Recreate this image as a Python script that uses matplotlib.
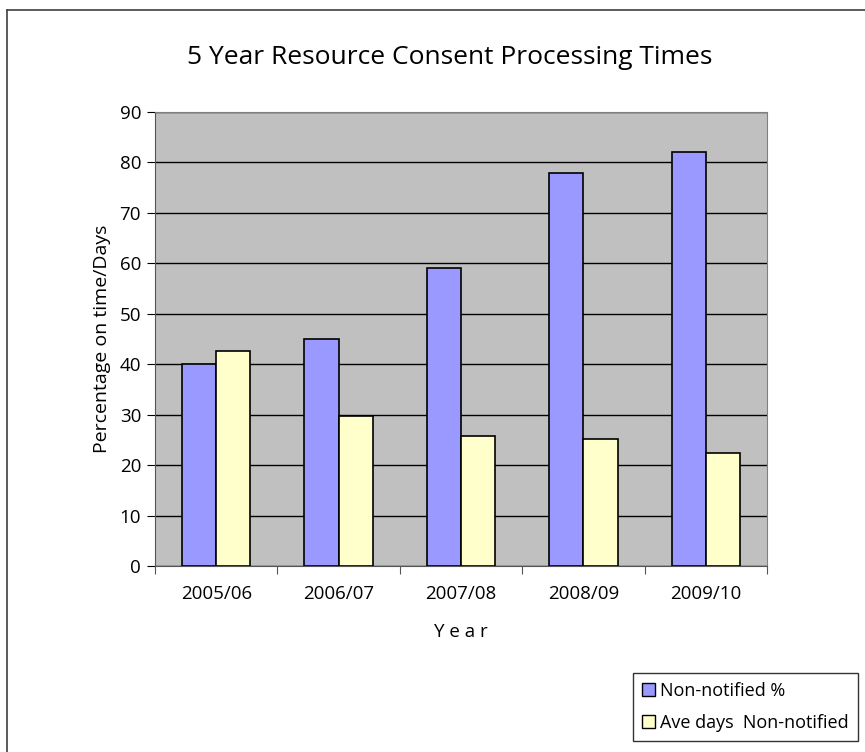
import matplotlib.pyplot as plt
import numpy as np
from matplotlib.lines import Line2D
from matplotlib.patches import Patch

# Data
years = ["2005/06", "2006/07", "2007/08", "2008/09", "2009/10"]
non_notified_pct = [40, 45, 59, 78, 82]
ave_days = [42.6, 29.7, 25.7, 25.1, 22.5]

plt.rcParams['font.family'] = ['Open Sans', 'DejaVu Sans']

fig = plt.figure(figsize=(8.65, 7.52), dpi=100)
ax = fig.add_axes([155 / 865, 1 - 566 / 752, 612 / 865, 454 / 752])

x = np.arange(len(years))
w = 0.28
ax.bar(x - w / 2, non_notified_pct, w, color="#9999FF", edgecolor="black", linewidth=1.2, zorder=3,
       label="Non-notified %")
ax.bar(x + w / 2, ave_days, w, color="#FFFFCC", edgecolor="black", linewidth=1.2, zorder=3,
       label="Ave days  Non-notified")

ax.set_facecolor("#C0C0C0")
ax.set_xlim(-0.5, len(years) - 0.5)
ax.set_ylim(0, 90)
ax.set_yticks(range(0, 91, 10))
ax.yaxis.grid(True, color="black", linewidth=1)
ax.set_axisbelow(True)

# category ticks between groups, labels centred
ax.set_xticks(np.arange(-0.5, len(years), 1))
ax.set_xticklabels([])
ax.set_xticks(x, minor=True)
ax.set_xticklabels(years, minor=True)
ax.tick_params(axis="x", which="minor", length=0, pad=14, labelsize=13.5)
ax.tick_params(axis="x", which="major", length=6, color="#555555")
ax.tick_params(axis="y", length=6, labelsize=13.5, pad=4)

for s in ["top", "right"]:
    ax.spines[s].set_color("#808080")
ax.spines["left"].set_color("#555555")
ax.spines["bottom"].set_color("#555555")

ax.set_xlabel("Y e a r", fontsize=13.5, labelpad=14)
ax.set_ylabel("Percentage on time/Days", fontsize=14, labelpad=6)
fig.text(0.52, 1 - 58 / 752, "5 Year Resource Consent Processing Times", ha="center", va="center", fontsize=19)

# outer chart border
fig.add_artist(Line2D([7 / 865, 7 / 865], [0, 1 - 10 / 752], color="#404040", lw=1.2))
fig.add_artist(Line2D([7 / 865, 1], [1 - 10 / 752, 1 - 10 / 752], color="#404040", lw=1.2))

handles = [Patch(facecolor="#9999FF", edgecolor="black"), Patch(facecolor="#FFFFCC", edgecolor="black")]
leg = fig.legend(handles, ["Non-notified %", "Ave days  Non-notified"], loc="upper left",
                 bbox_to_anchor=(633 / 865, 1 - 673 / 752), fontsize=13, frameon=True, fancybox=False,
                 handlelength=0.7, handleheight=0.7, handletextpad=0.3, borderpad=0.5, labelspacing=0.75,
                 borderaxespad=0)
leg.get_frame().set_edgecolor("black")
leg.get_frame().set_linewidth(1)

fig.savefig("out.png", dpi=100)
